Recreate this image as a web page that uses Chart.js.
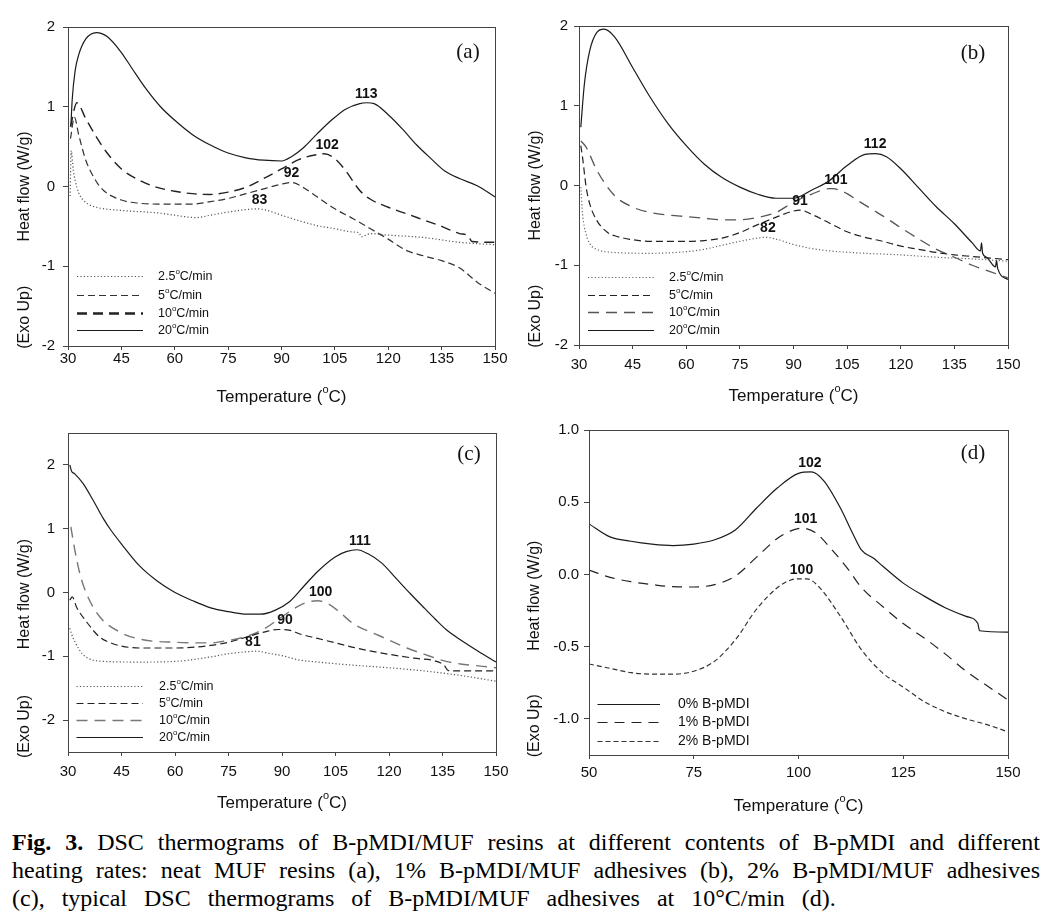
<!DOCTYPE html>
<html>
<head>
<meta charset="utf-8">
<title>DSC thermograms</title>
<script src="https://cdn.jsdelivr.net/npm/chart.js@4.4.1/dist/chart.umd.min.js"></script>
<style>
  body { margin: 0; background: #fff; width: 1053px; height: 921px; position: relative; overflow: hidden; }
  canvas { position: absolute; }
  #caption {
    position: absolute; left: 12px; top: 828px; width: 1028px;
    font-family: "Liberation Serif", "Times New Roman", serif;
    font-size: 24px; line-height: 28px; color: #000;
  }
  #caption .ln { text-align: justify; text-align-last: justify; white-space: nowrap; }
  #caption .last { text-align: left; text-align-last: left; word-spacing: 11px; }
</style>
</head>
<body>
<canvas id="panelA" width="520" height="415" style="left:0;top:0"></canvas>
<canvas id="panelB" width="533" height="415" style="left:520px;top:0"></canvas>
<canvas id="panelC" width="520" height="410" style="left:0;top:415px"></canvas>
<canvas id="panelD" width="533" height="410" style="left:520px;top:415px"></canvas>
<div id="caption">
  <div class="ln"><b>Fig. 3.</b> DSC thermograms of B-pMDI/MUF resins at different contents of B-pMDI and different</div>
  <div class="ln">heating rates: neat MUF resins (a), 1% B-pMDI/MUF adhesives (b), 2% B-pMDI/MUF adhesives</div>
  <div class="ln last">(c), typical DSC thermograms of B-pMDI/MUF adhesives at 10°C/min (d).</div>
</div>
<script>
// ---- data ----
const rateLabels = ['2.5°C/min', '5°C/min', '10°C/min', '20°C/min'];
const contentLabels = ['0% B-pMDI', '1% B-pMDI', '2% B-pMDI'];

const xTicksRate = [30, 45, 60, 75, 90, 105, 120, 135, 150];
const yTicksAB = [-2, -1, 0, 1, 2];
const yTicksC = [-2, -1, 0, 1, 2];
const xTicksD = [50, 75, 100, 125, 150];
const yTicksD = [-1.0, -0.5, 0.0, 0.5, 1.0];

// (a) neat MUF
const a25x = [30.6, 30.9, 31.5, 32, 33, 35, 38, 45, 55, 60, 66, 70, 75, 80, 83, 86, 90, 95, 100, 105, 110, 111.8, 112.4, 115, 120, 130, 140, 150];
const a25y = [-0.12, 0.45, 0.2, 0.08, -0.08, -0.2, -0.26, -0.3, -0.33, -0.36, -0.39, -0.36, -0.32, -0.29, -0.28, -0.3, -0.36, -0.43, -0.49, -0.53, -0.57, -0.58, -0.63, -0.59, -0.61, -0.64, -0.7, -0.73];
const a5x = [30.7, 31.8, 33, 35, 38, 40, 45, 50, 55, 60, 65, 70, 75, 80, 85, 90, 93, 96, 100, 105, 110, 115, 120, 125, 130, 135, 140, 145, 150];
const a5y = [0.6, 0.87, 0.65, 0.33, 0.06, -0.05, -0.17, -0.21, -0.22, -0.22, -0.22, -0.19, -0.15, -0.09, -0.03, 0.03, 0.05, -0.01, -0.13, -0.28, -0.4, -0.53, -0.66, -0.8, -0.87, -0.93, -1.02, -1.2, -1.34];
const a10x = [30.7, 32.5, 35, 38, 41, 45, 50, 55, 60, 65, 70, 75, 80, 85, 90, 95, 100, 102, 105, 108, 112, 115, 120, 125, 130, 135, 140, 142.5, 143.5, 150];
const a10y = [0.75, 1.05, 0.85, 0.62, 0.42, 0.22, 0.08, -0.01, -0.06, -0.09, -0.1, -0.07, -0.01, 0.1, 0.22, 0.34, 0.4, 0.41, 0.35, 0.2, -0.05, -0.16, -0.26, -0.34, -0.42, -0.5, -0.59, -0.62, -0.69, -0.7];
const a20x = [30.8, 31.2, 32, 33, 35, 38, 41, 45, 48, 52, 56, 60, 65, 70, 75, 80, 85, 90, 93, 96, 100, 104, 108, 112, 114, 116, 120, 124, 128, 132, 136, 140, 145, 150];
const a20y = [0.75, 1.1, 1.45, 1.65, 1.85, 1.93, 1.88, 1.68, 1.48, 1.22, 1.0, 0.83, 0.65, 0.52, 0.42, 0.36, 0.33, 0.32, 0.38, 0.48, 0.66, 0.83, 0.97, 1.04, 1.05, 1.04, 0.9, 0.72, 0.52, 0.35, 0.19, 0.1, 0.01, -0.13];
const peakTempA = [83, 92, 102, 113];
const peakFlowA = [-0.28, 0.05, 0.41, 1.05];

// (b) 1% B-pMDI/MUF
const b25x = [30.5, 31, 32, 33, 35, 40, 50, 60, 65, 70, 75, 80, 82, 85, 90, 95, 100, 110, 120, 130, 140, 150];
const b25y = [-0.02, -0.36, -0.61, -0.73, -0.8, -0.84, -0.85, -0.83, -0.8, -0.75, -0.7, -0.66, -0.65, -0.67, -0.74, -0.79, -0.82, -0.85, -0.87, -0.9, -0.92, -0.95];
const b5x = [30.5, 31, 32, 33, 35, 38, 40, 45, 50, 60, 65, 70, 75, 80, 85, 90, 92, 95, 100, 105, 110, 115, 120, 125, 130, 135, 140, 145, 150];
const b5y = [0.5, 0.35, -0.02, -0.23, -0.44, -0.59, -0.63, -0.68, -0.7, -0.7, -0.69, -0.66, -0.59, -0.49, -0.4, -0.32, -0.31, -0.36, -0.47, -0.58, -0.65, -0.7, -0.76, -0.8, -0.84, -0.87, -0.89, -0.91, -0.93];
const b10x = [30.5, 32, 35, 40, 45, 50, 55, 60, 65, 70, 75, 80, 85, 90, 95, 100, 101, 104, 108, 112, 116, 120, 125, 130, 135, 140, 145, 150];
const b10y = [0.56, 0.48, 0.19, -0.13, -0.27, -0.34, -0.37, -0.39, -0.41, -0.43, -0.43, -0.4, -0.34, -0.21, -0.11, -0.04, -0.04, -0.08, -0.19, -0.3, -0.41, -0.53, -0.67, -0.8, -0.9, -1.0, -1.08, -1.16];
const b20x = [30.5, 31.5, 33, 35, 37, 40, 45, 50, 55, 60, 65, 70, 75, 80, 85, 90, 95, 100, 105, 110, 113, 116, 120, 125, 130, 135, 140, 142.3, 142.6, 142.9, 144, 146.5, 146.8, 147.1, 150];
const b20y = [0.73, 1.27, 1.69, 1.92, 1.96, 1.86, 1.48, 1.1, 0.77, 0.5, 0.27, 0.1, -0.02, -0.11, -0.16, -0.16, -0.06, 0.06, 0.25, 0.39, 0.4, 0.36, 0.21, -0.03, -0.27, -0.48, -0.72, -0.82, -0.72, -0.85, -0.9, -1.02, -0.94, -1.04, -1.18];
const peakTempB = [82, 91, 101, 112];
const peakFlowB = [-0.65, -0.31, -0.04, 0.4];

// (c) 2% B-pMDI/MUF
const c25x = [30.5, 31, 32, 34, 36, 40, 50, 60, 70, 75, 80, 83, 86, 90, 95, 100, 110, 120, 130, 140, 150];
const c25y = [-0.56, -0.65, -0.78, -0.96, -1.04, -1.08, -1.09, -1.08, -1.01, -0.96, -0.93, -0.92, -0.95, -0.99, -1.06, -1.09, -1.14, -1.18, -1.23, -1.3, -1.39];
const c5x = [30.5, 31.2, 32.4, 35.2, 38.9, 42, 45, 50, 60, 70, 75, 80, 85, 89, 92, 95, 100, 105, 110, 117, 127, 135.3, 136.5, 137.5, 150];
const c5y = [-0.12, -0.07, -0.23, -0.46, -0.7, -0.79, -0.84, -0.87, -0.87, -0.83, -0.78, -0.7, -0.62, -0.58, -0.59, -0.65, -0.72, -0.79, -0.86, -0.94, -1.03, -1.13, -1.22, -1.23, -1.23];
const c10x = [30.8, 31.9, 33.3, 35.2, 38.9, 44.5, 51, 60, 70, 75, 80, 85, 90, 95, 98, 100, 103, 106, 110, 117, 125, 130, 136, 140, 145, 150];
const c10y = [1.03, 0.67, 0.3, -0.02, -0.38, -0.62, -0.74, -0.78, -0.79, -0.75, -0.69, -0.57, -0.38, -0.2, -0.14, -0.13, -0.18, -0.3, -0.49, -0.67, -0.87, -0.97, -1.08, -1.12, -1.15, -1.18];
const c20x = [30.5, 31, 31.9, 34.2, 37, 40, 42, 45, 50, 55, 60, 65, 70, 75, 80, 84, 88, 92, 96, 100, 105, 108, 111, 114, 118, 122, 126, 130, 133, 136, 140, 145, 150];
const c20y = [2.0, 1.9, 1.86, 1.71, 1.45, 1.15, 0.98, 0.76, 0.42, 0.18, 0.0, -0.13, -0.24, -0.3, -0.34, -0.34, -0.28, -0.15, 0.09, 0.33, 0.56, 0.64, 0.67, 0.61, 0.46, 0.22, -0.02, -0.25, -0.42, -0.58, -0.74, -0.92, -1.09];
const peakTempC = [81, 90, 100, 111];
const peakFlowC = [-0.92, -0.58, -0.13, 0.67];

// (d) 10 C/min, different B-pMDI contents
const d0x = [50, 55, 60, 65, 70, 75, 80, 85, 90, 95, 100, 103, 106, 110, 113, 115, 118, 120, 125, 130, 135, 140, 142.8, 143.2, 150];
const d0y = [0.35, 0.26, 0.23, 0.21, 0.2, 0.21, 0.24, 0.31, 0.46, 0.6, 0.7, 0.71, 0.65, 0.46, 0.28, 0.17, 0.11, 0.06, -0.06, -0.15, -0.23, -0.29, -0.34, -0.39, -0.4];
const d1x = [50, 55, 60, 65, 70, 75, 80, 85, 90, 95, 98, 101, 104, 108, 112, 115, 120, 125, 130, 135, 140, 145, 150];
const d1y = [0.03, -0.02, -0.05, -0.07, -0.085, -0.087, -0.07, -0.01, 0.12, 0.25, 0.3, 0.32, 0.29, 0.17, 0.03, -0.09, -0.22, -0.34, -0.44, -0.55, -0.67, -0.77, -0.87];
const d2x = [50, 55, 60, 65, 70, 75, 80, 85, 90, 95, 98, 100, 102, 105, 110, 115, 120, 125, 130, 135, 140, 145, 150];
const d2y = [-0.62, -0.65, -0.68, -0.69, -0.69, -0.67, -0.6, -0.45, -0.24, -0.09, -0.04, -0.03, -0.03, -0.09, -0.29, -0.52, -0.68, -0.78, -0.88, -0.95, -1.0, -1.04, -1.09];
const peakTempD = [102, 101, 100];
const peakFlowD = [0.71, 0.32, -0.03];

// ---- styles ----
const SANS = '"Liberation Sans", Arial, Helvetica, sans-serif';
const SERIF = '"Liberation Serif", "Times New Roman", serif';
Chart.defaults.font.family = SANS;

const dotted = { borderColor: '#555', borderWidth: 1.2, borderDash: [1.2, 2.2] };
const solid = { borderColor: '#1a1a1a', borderWidth: 1.2, borderDash: [] };

// draw text, turning each ° into a raised small "o"
function drawSupText(ctx, text, x, y, size, align) {
  const parts = text.split('°');
  const supSize = Math.round(size * 0.62);
  ctx.font = size + 'px ' + SANS;
  const widths = parts.map(p => ctx.measureText(p).width);
  ctx.font = supSize + 'px ' + SANS;
  const sw = ctx.measureText('o').width;
  const total = widths.reduce((s, w) => s + w, 0) + sw * (parts.length - 1);
  let cx = align === 'center' ? x - total / 2 : (align === 'right' ? x - total : x);
  ctx.textAlign = 'left';
  ctx.textBaseline = 'middle';
  parts.forEach((p, i) => {
    ctx.font = size + 'px ' + SANS;
    ctx.fillText(p, cx, y);
    cx += widths[i];
    if (i < parts.length - 1) {
      ctx.font = supSize + 'px ' + SANS;
      ctx.fillText('o', cx, y - size * 0.4);
      cx += sw;
    }
  });
}

// frame, titles, legend, panel letter and peak labels
const decor = {
  id: 'decor',
  afterDraw(chart, args, o) {
    const ctx = chart.ctx;
    const a = chart.chartArea;
    const xs = chart.scales.x, ys = chart.scales.y;
    const h = a.bottom - a.top;
    ctx.save();
    ctx.fillStyle = '#111';

    // box round the plot
    ctx.strokeStyle = '#444';
    ctx.lineWidth = 1;
    ctx.setLineDash([]);
    ctx.strokeRect(Math.round(a.left) + 0.5, Math.round(a.top) + 0.5,
      Math.round(a.right - a.left), Math.round(a.bottom - a.top));

    // axis titles
    drawSupText(ctx, 'Temperature (°C)', (a.left + a.right) / 2, a.bottom + o.xTitleDy, 17, 'center');
    ctx.save();
    ctx.translate(a.left + o.yTitleDx, a.top + h * o.heatFrac);
    ctx.rotate(-Math.PI / 2);
    drawSupText(ctx, 'Heat flow (W/g)', 0, 0, 16, 'center');
    ctx.restore();
    ctx.save();
    ctx.translate(a.left + o.yTitleDx, a.top + h * o.exoFrac);
    ctx.rotate(-Math.PI / 2);
    drawSupText(ctx, '(Exo Up)', 0, 0, 16, 'center');
    ctx.restore();

    // panel letter
    ctx.font = '21px ' + SERIF;
    ctx.textAlign = 'center';
    ctx.textBaseline = 'middle';
    ctx.fillText(o.letter, a.right + o.letterDx, a.top + o.letterDy);

    // legend
    chart.data.datasets.forEach((ds, i) => {
      const y = Math.round(a.bottom + o.legendRows[i]) + 0.5;
      ctx.strokeStyle = ds.borderColor;
      ctx.lineWidth = ds.legendWidth || ds.borderWidth;
      ctx.setLineDash(ds.borderDash || []);
      ctx.beginPath();
      ctx.moveTo(a.left + o.legendX0, y);
      ctx.lineTo(a.left + o.legendX1, y);
      ctx.stroke();
      ctx.fillStyle = '#111';
      drawSupText(ctx, ds.label, a.left + o.legendTx, y, o.legendSize, 'left');
    });
    ctx.setLineDash([]);

    // peak temperatures
    ctx.font = 'bold 14px ' + SANS;
    ctx.textAlign = 'center';
    ctx.textBaseline = 'middle';
    ctx.fillStyle = '#111';
    o.peakTemps.forEach((t, i) => {
      ctx.fillText(String(t), xs.getPixelForValue(t) + 3, ys.getPixelForValue(o.peakFlows[i]) - 9);
    });
    ctx.restore();
  }
};

function series(label, xs, ys, style) {
  return Object.assign({
    label: label,
    data: xs.map((x, i) => ({ x: x, y: ys[i] })),
    pointRadius: 0,
    fill: false,
    tension: 0.4,
    cubicInterpolationMode: 'monotone'
  }, style);
}

function buildPanel(id, p) {
  return new Chart(document.getElementById(id), {
    type: 'line',
    data: { datasets: p.datasets },
    options: {
      responsive: false,
      animation: false,
      devicePixelRatio: 1,
      layout: { padding: { top: p.padTop, right: p.padRight, left: 0, bottom: 0 } },
      plugins: { legend: { display: false }, tooltip: { enabled: false }, decor: p.decor },
      scales: {
        x: {
          type: 'linear', min: p.xMin, max: p.xMax,
          afterBuildTicks: s => { s.ticks = p.xTicks.map(v => ({ value: v })); },
          afterFit: s => { s.height = p.xHeight; },
          ticks: { color: '#111', font: { size: 15 }, padding: p.xPad, maxRotation: 0, autoSkip: false },
          grid: { drawOnChartArea: false, tickLength: 4, color: '#444' },
          border: { color: '#444' }
        },
        y: {
          type: 'linear', min: p.yMin, max: p.yMax,
          afterBuildTicks: s => { s.ticks = p.yTicks.map(v => ({ value: v })); },
          afterFit: s => { s.width = p.yWidth; },
          ticks: { color: '#111', font: { size: 15 }, padding: p.yPad, autoSkip: false,
                   callback: v => p.yDigits ? v.toFixed(p.yDigits) : String(v) },
          grid: { drawOnChartArea: false, tickLength: 5, color: '#444' },
          border: { color: '#444' }
        }
      }
    },
    plugins: [decor]
  });
}

buildPanel('panelA', {
  datasets: [
    series(rateLabels[0], a25x, a25y, dotted),
    series(rateLabels[1], a5x, a5y, { borderColor: '#333', borderWidth: 1.2, borderDash: [7, 4] }),
    series(rateLabels[2], a10x, a10y, { borderColor: '#222', borderWidth: 1.4, borderDash: [10, 6], legendWidth: 2.4 }),
    series(rateLabels[3], a20x, a20y, solid)
  ],
  xMin: 30, xMax: 150, xTicks: xTicksRate, yMin: -2, yMax: 2, yTicks: yTicksAB,
  padTop: 27, padRight: 25, xHeight: 69, yWidth: 68, xPad: 0, yPad: 8,
  decor: {
    xTitleDy: 51, yTitleDx: -43, heatFrac: 0.5, exoFrac: 0.91,
    letter: '(a)', letterDx: -27, letterDy: 25,
    legendRows: [-70, -51.5, -33.5, -16], legendX0: 9, legendX1: 75, legendTx: 90, legendSize: 12.5,
    peakTemps: peakTempA, peakFlows: peakFlowA
  }
});

buildPanel('panelB', {
  datasets: [
    series(rateLabels[0], b25x, b25y, { borderColor: '#666', borderWidth: 1.2, borderDash: [1.2, 2.2] }),
    series(rateLabels[1], b5x, b5y, { borderColor: '#222', borderWidth: 1.2, borderDash: [7, 4] }),
    series(rateLabels[2], b10x, b10y, { borderColor: '#555', borderWidth: 1.3, borderDash: [11, 7] }),
    series(rateLabels[3], b20x, b20y, solid)
  ],
  xMin: 30, xMax: 150, xTicks: xTicksRate, yMin: -2, yMax: 2, yTicks: yTicksAB,
  padTop: 26, padRight: 45, xHeight: 70, yWidth: 59, xPad: 7, yPad: 6,
  decor: {
    xTitleDy: 51, yTitleDx: -43, heatFrac: 0.5, exoFrac: 0.91,
    letter: '(b)', letterDx: -35, letterDy: 27,
    legendRows: [-68, -50.5, -33, -15.5], legendX0: 9, legendX1: 75, legendTx: 90, legendSize: 12.5,
    peakTemps: peakTempB, peakFlows: peakFlowB
  }
});

buildPanel('panelC', {
  datasets: [
    series(rateLabels[0], c25x, c25y, dotted),
    series(rateLabels[1], c5x, c5y, { borderColor: '#222', borderWidth: 1.2, borderDash: [7, 4] }),
    series(rateLabels[2], c10x, c10y, { borderColor: '#777', borderWidth: 1.4, borderDash: [11, 7] }),
    series(rateLabels[3], c20x, c20y, solid)
  ],
  xMin: 30, xMax: 150, xTicks: xTicksRate, yMin: -2.5, yMax: 2.5, yTicks: yTicksC,
  padTop: 18, padRight: 24, xHeight: 73, yWidth: 68, xPad: 7, yPad: 8,
  decor: {
    xTitleDy: 51, yTitleDx: -43, heatFrac: 0.505, exoFrac: 0.92,
    letter: '(c)', letterDx: -27, letterDy: 21,
    legendRows: [-66, -48.7, -31.7, -15], legendX0: 8.5, legendX1: 75, legendTx: 91, legendSize: 12.5,
    peakTemps: peakTempC, peakFlows: peakFlowC
  }
});

buildPanel('panelD', {
  datasets: [
    series(contentLabels[0], d0x, d0y, solid),
    series(contentLabels[1], d1x, d1y, { borderColor: '#222', borderWidth: 1.2, borderDash: [10, 7] }),
    series(contentLabels[2], d2x, d2y, { borderColor: '#333', borderWidth: 1.2, borderDash: [5, 3] })
  ],
  xMin: 50, xMax: 150, xTicks: xTicksD, yMin: -1.25, yMax: 1.0, yTicks: yTicksD, yDigits: 1,
  padTop: 15, padRight: 45, xHeight: 70, yWidth: 69, xPad: 5, yPad: 5,
  decor: {
    xTitleDy: 51, yTitleDx: -54, heatFrac: 0.51, exoFrac: 0.91,
    letter: '(d)', letterDx: -35, letterDy: 23,
    legendRows: [-51.5, -33, -14.3], legendX0: 8.5, legendX1: 71, legendTx: 89, legendSize: 14,
    peakTemps: peakTempD, peakFlows: peakFlowD
  }
});
</script>
</body>
</html>
